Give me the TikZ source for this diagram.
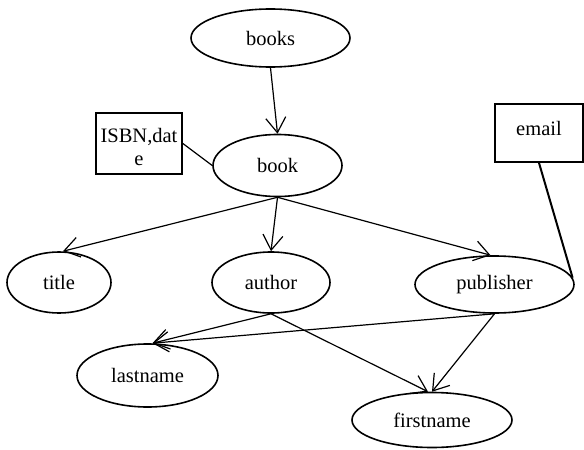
\documentclass[tikz,border=0pt]{standalone}
\usepackage{fontspec}
\setmainfont{Liberation Serif}
\usetikzlibrary{shapes.geometric,arrows.meta}
\begin{document}
\begin{tikzpicture}[x=1pt,y=-1pt,
  every node/.style={font=\fontsize{20.5}{23}\selectfont},
  ent/.style={ellipse,draw,line width=1.6pt,inner sep=0pt},
  attrbox/.style={rectangle,draw,line width=1.8pt,inner sep=0pt},
  link/.style={line width=1.2pt,-{Straight Barb[length=15pt,width=20pt,line width=1.2pt]}},
  plain/.style={line width=1.2pt}]
\useasboundingbox (0,0) rectangle (584,450);
\node[ent,minimum width=159pt,minimum height=58pt] (books) at (270.5,38) {books};
\node[ent,minimum width=129pt,minimum height=62pt] (book) at (277.5,165.5) {book};
\node[ent,minimum width=104pt,minimum height=61pt] (title) at (59,282.5) {title};
\node[ent,minimum width=118pt,minimum height=61pt] (author) at (271,282.5) {author};
\node[ent,minimum width=159pt,minimum height=57pt] (publisher) at (494.5,284.5) {publisher};
\node[ent,minimum width=141pt,minimum height=63pt] (lastname) at (147.5,375.5) {lastname};
\node[ent,minimum width=160pt,minimum height=55pt] (firstname) at (432,420) {firstname};
\node[attrbox,minimum width=86pt,minimum height=61pt] (isbn) at (139,143.5) {};
\node[align=center,inner sep=0pt] (isbntext) at (139,146.5) {ISBN,dat\\e};
\node[attrbox,minimum width=88pt,text height=31pt,text depth=27pt] (email) at (539,133) {email};
\draw[link] (books.south) -- (book.north);
\draw[link] (book.south) -- ([xshift=4pt]title.north);
\draw[link] (book.south) -- (author.north);
\draw[link] (book.south) -- ([xshift=-4pt]publisher.north);
\draw[link] (author.south) -- ([xshift=5pt]lastname.north);
\draw[link] (publisher.south) -- ([xshift=5pt]lastname.north);
\draw[link] (author.south) -- ([xshift=-4pt]firstname.north);
\draw[link] (publisher.south) -- (firstname.north);
\draw[plain] (isbn.east) -- (book.west);
\draw[line width=2pt] (email.south) -- (publisher.5);
\end{tikzpicture}
\end{document}
